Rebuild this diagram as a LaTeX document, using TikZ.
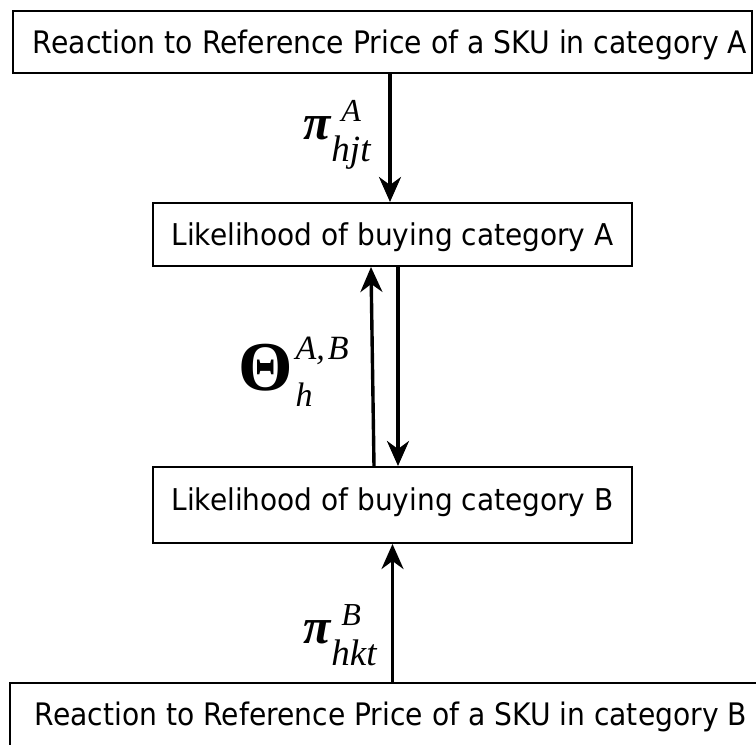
\documentclass[tikz,border=0pt]{standalone}
\usepackage{fontspec}
\setmainfont{DejaVu Sans}
\newfontfamily\tms{Liberation Serif}
\usepackage{graphicx}
\usetikzlibrary{arrows.meta}
\tikzset{
  boxnode/.style={draw, line width=2pt, inner sep=0pt},
  txtnode/.style={inner sep=0pt, anchor=base},
  arr/.style={line width=3.4pt, -{Stealth[length=25pt,width=22pt,inset=8pt]}},
  lbl/.style={inner sep=0pt, anchor=base west},
}
\newcommand\mypilabel[2]{\tms\itshape\bfseries\fontsize{50}{50}\selectfont π\mdseries\kern1pt\rlap{\kern10pt\fontsize{32}{32}\selectfont\raisebox{18pt}{#1}}\fontsize{37}{37}\selectfont\raisebox{-22pt}{#2}}
\begin{document}
\begin{tikzpicture}[x=1pt,y=-1pt]
\useasboundingbox (0,0) rectangle (756,745);
% boxes
\node[boxnode, minimum width=739pt, minimum height=62pt] (top) at (382.5,42) {};
\node[txtnode] (toptext) at (390,53) {\resizebox{714pt}{\height}{\fontsize{31}{36}\selectfont Reaction to Reference Price of a SKU in category A}};
\node[boxnode, minimum width=479pt, minimum height=63pt, text height=22pt, text depth=1pt] (A) at (392.5,234.5) {\resizebox{442pt}{\height}{\fontsize{30}{36}\selectfont Likelihood of buying category A}};
\node[boxnode, minimum width=479pt, minimum height=76pt, text height=22pt, text depth=12pt] (B) at (392.5,505) {\resizebox{442pt}{\height}{\fontsize{30}{36}\selectfont Likelihood of buying category B}};
\node[boxnode, minimum width=760pt, minimum height=77pt] (bot) at (390,721.5) {};
\node[txtnode] (bottext) at (391,725) {\resizebox{712pt}{\height}{\fontsize{31}{36}\selectfont Reaction to Reference Price of a SKU in category B}};
% arrows
\draw[arr] ([xshift=-2.5pt]A.north |- top.south) -- ([xshift=-2.5pt]A.north);
\draw[arr] ([xshift=-18.5pt]B.north) -- ([xshift=-21.5pt]A.south);
\draw[arr] ([xshift=5.5pt]A.south) -- ([xshift=5.5pt]B.north);
\draw[arr] (B.south |- bot.north) -- (B.south);
% labels
\node[lbl] (piA) at (303,139) {\mypilabel{A}{hjt}};
\node[lbl] (theta) at (238,390) {\tms\bfseries\fontsize{70}{70}\selectfont Θ\kern3pt\mdseries\itshape\rlap{\fontsize{34}{34}\selectfont\raisebox{31pt}{A,\kern3pt B}}\fontsize{34}{34}\selectfont\raisebox{-16pt}{h}};
\node[lbl] (piB) at (303,643) {\mypilabel{B}{hkt}};
\end{tikzpicture}
\end{document}
